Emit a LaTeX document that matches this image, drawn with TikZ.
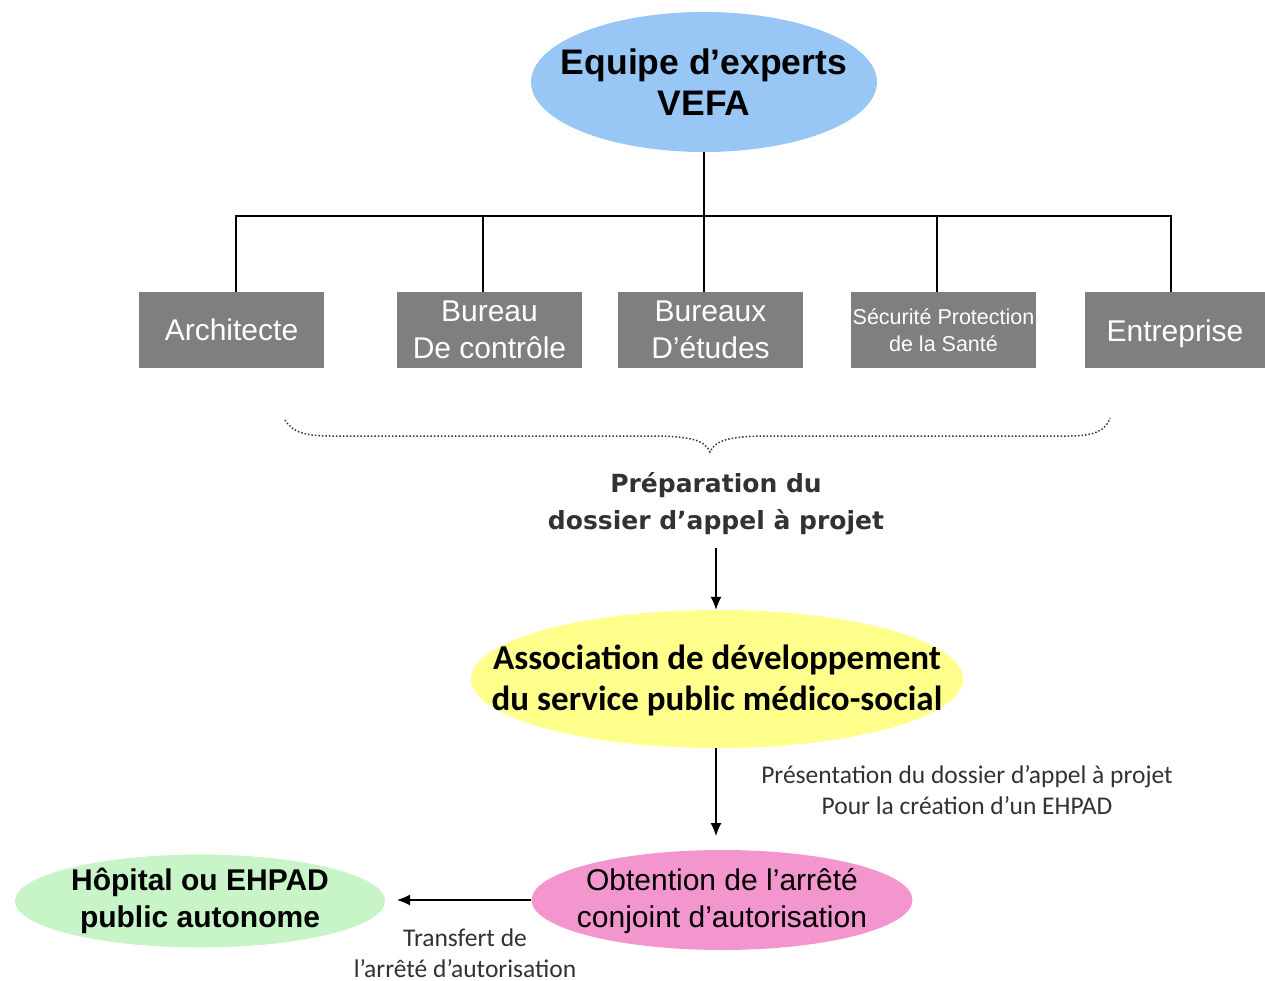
\documentclass[tikz,border=0pt]{standalone}
\usepackage{fontspec}
\setmainfont{Liberation Sans}
\newfontfamily\calib{Carlito}
\newfontfamily\verd{DejaVu Sans}
\usetikzlibrary{shapes.geometric,arrows.meta}
\definecolor{vblue}{RGB}{153,199,245}
\definecolor{vyellow}{RGB}{255,255,140}
\definecolor{vpink}{RGB}{242,150,205}
\definecolor{vgreen}{RGB}{200,245,200}
\definecolor{vgray}{RGB}{127,127,127}
\definecolor{vtext}{RGB}{50,50,50}
\tikzset{
  oval/.style={ellipse, inner sep=0pt, draw=none},
  txt/.style={align=center, inner sep=0pt},
  graybox/.style={rectangle, fill=vgray, text=white, minimum width=185, minimum height=76, inner sep=0pt, align=center, font=\fontsize{30}{37}\selectfont},
  link/.style={line width=1.2pt, black},
  arr/.style={line width=1.2pt, -{Latex[length=13pt,width=11pt]}},
  lab/.style={align=center, inner sep=0pt, text=vtext, font=\calib\fontsize{25.5}{31}\selectfont},
}
\begin{document}
\begin{tikzpicture}[x=1pt,y=-1pt]
\useasboundingbox (0,0) rectangle (1265,981);
\node[oval, fill=vblue, minimum width=346, minimum height=140] (vefa) at (704,82) {};
\node[txt, font=\bfseries\fontsize{35.5}{41}\selectfont] (vefat) at (704,82) {Equipe d’experts\\VEFA};
\node[graybox] (arch) at (231.5,330) {Architecte};
\node[graybox] (bur) at (489.5,330) {Bureau\\De contrôle};
\node[graybox] (bxe) at (710.5,330) {Bureaux\\D’études};
\node[graybox, font=\fontsize{21.5}{27}\selectfont] (sps) at (943.5,330) {Sécurité Protection\\de la Santé};
\node[graybox, minimum width=180, text height=23pt, text depth=0pt] (ent) at (1175,330) {Entreprise};
\coordinate (hub) at (704,216);
\draw[link] (vefa.south) -- (hub);
\draw[link] (hub) -| ([xshift=4.5]arch.north);
\draw[link] (hub) -| ([xshift=-6.5]bur.north);
\draw[link] (hub) -- ([xshift=-6.5]bxe.north);
\draw[link] (hub) -| ([xshift=-6.5]sps.north);
\draw[link] (hub) -| ([xshift=-4]ent.north);
% brace
\draw[vtext, line width=1.5pt, dotted] (285,420) .. controls (292,432) and (305,436) .. (330,436)
  -- (650,436) .. controls (690,436) and (705,440) .. (710,452)
  .. controls (715,440) and (730,436) .. (770,436) -- (1070,436)
  .. controls (1095,436) and (1106,430) .. (1110,418);
\node[txt, text=vtext, font=\verd\bfseries\fontsize{25}{37}\selectfont] (prep) at (716,504) {Préparation du\\dossier d’appel à projet};
\node[oval, fill=vyellow, minimum width=492, minimum height=138] (assoc) at (717,679) {};
\node[txt, font=\calib\bfseries\fontsize{35}{41}\selectfont] (assoct) at (717,680) {Association de développement\\du service public médico-social};
\coordinate (a1) at (716,548);
\draw[arr] (a1) -- ([xshift=-1]assoc.north);
\node[oval, fill=vpink, minimum width=381, minimum height=100] (obt) at (722,900) {};
\node[txt, font=\fontsize{30}{37}\selectfont] (obtt) at (722,901) {Obtention de l’arrêté\\conjoint d’autorisation};
\node[oval, fill=vgreen, minimum width=370, minimum height=93] (hop) at (200,901) {};
\node[txt, font=\bfseries\fontsize{30}{37}\selectfont] (hopt) at (200,901) {Hôpital ou EHPAD\\public autonome};
\coordinate (a2) at (716,836);
\draw[arr] ([xshift=-1]assoc.south) -- (a2);
\node[lab] (l1) at (967,790) {Présentation du dossier d’appel à projet\\Pour la création d’un EHPAD};
\coordinate (a3) at (397,900);
\draw[arr] (obt.west) -- (a3);
\node[lab] (l2) at (465,953) {Transfert de\\l’arrêté d’autorisation};
\end{tikzpicture}
\end{document}
